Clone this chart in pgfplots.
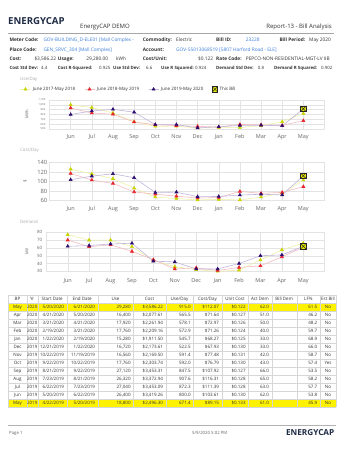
\documentclass[border=0pt]{standalone}
\usepackage{pgfplots}
\pgfplotsset{compat=1.18}
\usepackage{fontspec}
\setmainfont{Open Sans}
\newcommand\fs[1]{\fontsize{#1}{#1}\selectfont}
\definecolor{ylw}{HTML}{C8D400}
\definecolor{ylwl}{HTML}{EEF2A8}
\definecolor{rd}{HTML}{E8262C}
\definecolor{rdl}{HTML}{F5BCC0}
\definecolor{pur}{HTML}{2D0C6E}
\definecolor{purl}{HTML}{C2B6DC}
\definecolor{billy}{HTML}{E6E600}
\definecolor{gridc}{HTML}{E3E3E3}
\definecolor{tickc}{HTML}{666666}
\definecolor{txt}{HTML}{333333}
\definecolor{lbl}{HTML}{AAAAAA}
\definecolor{blu}{HTML}{3B7DD8}
\definecolor{logo}{HTML}{1E2B45}
\definecolor{tline}{HTML}{D6D6D6}
\pgfdeclareplotmark{thisbill}{%
  \pgfpathrectangle{\pgfpoint{-\pgfplotmarksize}{-\pgfplotmarksize}}{\pgfpoint{2\pgfplotmarksize}{2\pgfplotmarksize}}%
  \pgfusepathqfillstroke
  \pgfpathmoveto{\pgfpoint{-\pgfplotmarksize}{-\pgfplotmarksize}}\pgfpathlineto{\pgfpoint{\pgfplotmarksize}{\pgfplotmarksize}}%
  \pgfpathmoveto{\pgfpoint{-\pgfplotmarksize}{\pgfplotmarksize}}\pgfpathlineto{\pgfpoint{\pgfplotmarksize}{-\pgfplotmarksize}}%
  \pgfusepathqstroke}
\pgfplotsset{
  rep/.style={scale only axis, anchor=south west, clip=false,
    xmin=-1, xmax=12, xtick={0,...,11},
    xticklabels={Jun,Jul,Aug,Sep,Oct,Nov,Dec,Jan,Feb,Mar,Apr,May},
    grid=major, major grid style={draw=gridc, line width=0.4pt},
    axis line style={draw=gridc, line width=0.5pt}, tick style={draw=none},
    ticklabel style={text=tickc, inner sep=0pt},
    xticklabel style={font=\fs{5.5}, text height=4pt, text depth=1pt, anchor=north},
    /pgf/number format/assume math mode=true,
    ylabel style={text=tickc, anchor=center},
    legend image code/.code={\draw[mark repeat=2,mark phase=2,##1] plot coordinates {(0pt,0pt)(5pt,0pt)(10pt,0pt)};},
  },
  sy/.style={color=ylwl, line width=0.6pt, mark=triangle*, mark size=1.7pt, mark options={draw=ylw, fill=ylw, solid}},
  sr/.style={color=rdl, line width=0.6pt, mark=triangle*, mark size=1.7pt, mark options={draw=rd, fill=rd, solid}},
  sp/.style={color=purl, line width=0.6pt, mark=triangle*, mark size=1.7pt, mark options={draw=pur, fill=pur, solid}},
  sb/.style={only marks, mark=thisbill, mark size=2.6pt, mark options={draw=black!85, fill=billy, line width=0.5pt}},
}
\begin{document}
\begin{tikzpicture}[x=1pt,y=1pt,
  lab/.style={anchor=base west,inner sep=0pt,text=txt,font=\fs{4.8}\bfseries},
  val/.style={anchor=base west,inner sep=0pt,text=txt,font=\fs{4.8}},
  bval/.style={val,text=blu},
  lab4/.style={anchor=base west,inner sep=0pt,text=txt,font=\fs{4.4}\bfseries},
  val4/.style={anchor=base west,inner sep=0pt,text=txt,font=\fs{4.4}},
  tb/.style={inner sep=0pt,text=txt,font=\fs{4.5}},
  sec/.style={anchor=west,inner sep=0pt,text=lbl,font=\fs{4.4}}]
\fill[white] (0,0) rectangle (350,-453);
% ---------- header ----------
\node[anchor=base west,inner sep=0pt,text=logo,font=\fs{9.6}\bfseries] at (8,-24.5) {ENERGYCAP};
\node[anchor=base west,inner sep=0pt,text=txt,font=\fs{6}] at (80,-28.8) {EnergyCAP DEMO};
\node[anchor=base east,inner sep=0pt,text=txt,font=\fs{6}] at (332,-28.8) {Report-13 - Bill Analysis};
\draw[black!35,line width=0.6pt] (8,-33.3) -- (334,-33.3);
% row 1
\node[lab] at (9.3,-41.4) {Meter Code:};
\node[bval] at (43.3,-41.4) {GOV-BUILDING\_D-ELE01 [Mall Complex -};
\node[lab] at (142.7,-41.4) {Commodity:};
\node[val] at (176,-41.4) {Electric};
\node[lab] at (216,-41.4) {Bill ID:};
\node[bval] at (245.7,-41.4) {23228};
\node[lab] at (279.3,-41.4) {Bill Period:};
\node[val] at (309,-41.4) {May 2020};
% row 2
\node[lab] at (9.3,-51) {Place Code:};
\node[bval] at (43.3,-51) {GEN\_SRVC\_304 [Mall Complex]};
\node[lab] at (142.7,-51) {Account:};
\node[bval] at (176,-51) {GOV-55013068519 [5807 Harford Road - ELE]};
% row 3
\node[lab] at (9.3,-60.7) {Cost:};
\node[val] at (34.3,-60.7) {\$3,586.22};
\node[lab] at (57.7,-60.7) {Usage:};
\node[val,anchor=base east] at (108.3,-60.7) {29,280.00};
\node[val] at (116,-60.7) {kWh};
\node[lab] at (142.7,-60.7) {Cost/Unit:};
\node[val,anchor=base east] at (213.3,-60.7) {\$0.122};
\node[lab] at (216,-60.7) {Rate Code:};
\node[val] at (245.7,-60.7) {PEPCO-NON-RESIDENTIAL-MGT-LV IIB};
% row 4
\node[lab4] at (9.3,-69.8) {Cost Std Dev:};
\node[val4] at (41,-69.8) {4.4};
\node[lab4] at (57.7,-69.8) {Cost R-Squared:};
\node[val4] at (99,-69.8) {0.925};
\node[lab4] at (113,-69.8) {Use Std Dev:};
\node[val4] at (146,-69.8) {6.6};
\node[lab4] at (161,-69.8) {Use R Squared:};
\node[val4] at (195,-69.8) {0.924};
\node[lab4] at (216,-69.8) {Demand Std Dev:};
\node[val4] at (257.7,-69.8) {0.8};
\node[lab4] at (274,-69.8) {Demand R Squared:};
\node[val4] at (321,-69.8) {0.902};
% ---------- section labels ----------
\node[sec] at (20,-79.3) {Use/Day};
\node[sec] at (20,-150.7) {Cost/Day};
\node[sec] at (20,-221.7) {Demand};
% ---------- chart 1: Use/Day ----------
\begin{axis}[rep, at={(49.5pt,-129pt)}, width=275pt, height=29pt,
  ymin=500, ymax=1100, ytick={500,600,...,1100},
  yticklabel style={font=\fs{2.7}, xshift=-4pt},
  xticklabel style={yshift=-4.8pt},
  ylabel={kWh}, ylabel style={font=\fs{4.2}, at={(axis description cs:-0.083,0.5)}},
  legend columns=4, legend cell align=left,
  legend style={at={(axis description cs:-0.1073,1.369)}, anchor=west, draw=none, fill=none,
    font=\fs{4.5}, text=txt, inner sep=0pt,
    /tikz/every even column/.append style={column sep=7pt}}]
\addplot[sy] coordinates {(0,1000)(1,945)(2,830)(3,650)(4,555)(5,560)(6,520)(7,530)(8,530)(9,570)(10,650)(11,820)};
\addlegendentry{June 2017-May 2018}
\addplot[sr] coordinates {(0,935)(1,830)(2,805)(3,645)(4,590)(5,570)(6,555)(7,540)(8,595)(9,585)(10,575)(11,671.4)};
\addlegendentry{June 2018-May 2019}
\addplot[sp] coordinates {(0,800)(1,872.3)(2,907.6)(3,847.5)(4,592.0)(5,591.4)(6,522.5)(7,545.7)(8,572.9)(9,578.1)(10,565.5)(11,915.0)};
\addlegendentry{June 2019-May 2020}
\addplot[sb] coordinates {(11,915.0)};
\addlegendentry{This Bill}
\end{axis}
% ---------- chart 2: Cost/Day ----------
\begin{axis}[rep, at={(49.5pt,-200.4pt)}, width=275pt, height=37.8pt,
  ymin=60, ymax=140, ytick={60,80,...,140},
  yticklabel style={font=\fs{5.8}, xshift=-2pt},
  xticklabel style={yshift=-5.4pt},
  ylabel={\$}, ylabel style={font=\fs{4.4}, at={(axis description cs:-0.089,0.5)}}]
\addplot[sy] coordinates {(0,126)(1,116)(2,106)(3,86)(4,67)(5,64)(6,61)(7,62)(8,61)(9,67)(10,75)(11,103)};
\addplot[sr] coordinates {(0,117)(1,103)(2,96)(3,78)(4,73)(5,69)(6,65)(7,66)(8,79)(9,75)(10,77)(11,89.15)};
\addplot[sp] coordinates {(0,103.61)(1,111.39)(2,116.31)(3,107.92)(4,76.79)(5,77.48)(6,67.93)(7,68.27)(8,71.26)(9,72.97)(10,71.64)(11,112.07)};
\addplot[sb] coordinates {(11,112.07)};
\end{axis}
% ---------- chart 3: Demand ----------
\begin{axis}[rep, at={(46.3pt,-271.3pt)}, width=278.4pt, height=39pt,
  ymin=30, ymax=80, ytick={30,40,...,80},
  yticklabel style={font=\fs{4.4}, xshift=-4pt},
  xticklabel style={yshift=-6.5pt},
  ylabel={kW}, ylabel style={font=\fs{4.2}, at={(axis description cs:-0.070,0.5)}}]
\addplot[sy] coordinates {(0,77)(1,70)(2,70)(3,61.5)(4,44)(5,36)(6,32)(7,30)(8,31.5)(9,44.5)(10,57.5)(11,66)};
\addplot[sr] coordinates {(0,70)(1,61.5)(2,64)(3,55.5)(4,45)(5,33)(6,34.5)(7,31)(8,35)(9,37)(10,48.5)(11,61)};
\addplot[sp] coordinates {(0,62)(1,63)(2,65)(3,66)(4,43)(5,42)(6,33)(7,33)(8,40)(9,50)(10,51)(11,62)};
\addplot[sb] coordinates {(11,62)};
\end{axis}
% ---------- table ----------
\fill[yellow] (8.3,-303) rectangle (336,-311);
\fill[yellow] (8.3,-399) rectangle (336,-407);
\foreach \k in {0,...,14} {\draw[tline,line width=0.4pt] (8.3,{-(295+8*\k)}) -- (336,{-(295+8*\k)});}
\foreach \c in {8.3,26.7,37.7,66.7,97.7,133.3,165.7,193.3,221.7,248.3,271.7,296.7,320,336} {\draw[tline,line width=0.4pt] (\c,-295) -- (\c,-407);}
\foreach \x/\t in {17.5/BP,32.2/Yr,52.2/Start Date,82.2/End Date,115.5/Use,149.5/Cost,179.5/Use\slash Day,207.5/Cost\slash Day,235/Unit Cost,260/Act Dem,284.2/Bill Dem,308.35/LF\%,328/Est Bill}
  {\node[tb,anchor=base] at (\x,-300.6) {\t};}
\foreach \bp/\yr/\sd/\ed/\us/\co/\ud/\cd/\uc/\ad/\lf/\es [count=\i] in {
 May/2020/{5/20/2020}/{6/21/2020}/{29,280}/{\$3,586.22}/915.0/{\$112.07}/{\$0.122}/62.0/61.5/No,
 Apr/2020/{4/21/2020}/{5/20/2020}/{16,400}/{\$2,077.61}/565.5/{\$71.64}/{\$0.127}/51.0/46.2/No,
 Mar/2020/{3/21/2020}/{4/21/2020}/{17,920}/{\$2,261.94}/578.1/{\$72.97}/{\$0.126}/50.0/48.2/No,
 Feb/2020/{2/19/2020}/{3/21/2020}/{17,760}/{\$2,209.16}/572.9/{\$71.26}/{\$0.124}/40.0/59.7/No,
 Jan/2020/{1/22/2020}/{2/19/2020}/{15,280}/{\$1,911.50}/545.7/{\$68.27}/{\$0.125}/33.0/68.9/No,
 Dec/2019/{12/21/2019}/{1/22/2020}/{16,720}/{\$2,173.61}/522.5/{\$67.93}/{\$0.130}/33.0/66.0/No,
 Nov/2019/{10/22/2019}/{11/19/2019}/{16,560}/{\$2,169.50}/591.4/{\$77.48}/{\$0.131}/42.0/58.7/No,
 Oct/2019/{9/22/2019}/{10/22/2019}/{17,760}/{\$2,303.74}/592.0/{\$76.79}/{\$0.130}/43.0/57.4/Yes,
 Sep/2019/{8/21/2019}/{9/22/2019}/{27,120}/{\$3,453.31}/847.5/{\$107.92}/{\$0.127}/66.0/53.5/No,
 Aug/2019/{7/23/2019}/{8/21/2019}/{26,320}/{\$3,372.94}/907.6/{\$116.31}/{\$0.128}/65.0/58.2/No,
 Jul/2019/{6/22/2019}/{7/23/2019}/{27,040}/{\$3,453.09}/872.3/{\$111.39}/{\$0.128}/63.0/57.7/No,
 Jun/2019/{5/20/2019}/{6/22/2019}/{26,400}/{\$3,419.26}/800.0/{\$103.61}/{\$0.130}/62.0/53.8/No,
 May/2019/{4/22/2019}/{5/20/2019}/{18,800}/{\$2,496.30}/671.4/{\$89.15}/{\$0.133}/61.0/45.9/No}
{
 \pgfmathsetmacro\yb{-(300.6+8*\i)}
 \node[tb,anchor=base] at (17.5,\yb) {\bp};
 \node[tb,anchor=base] at (32.2,\yb) {\yr};
 \node[tb,anchor=base east] at (64.2,\yb) {\sd};
 \node[tb,anchor=base east] at (95.2,\yb) {\ed};
 \node[tb,anchor=base east] at (130.8,\yb) {\us};
 \node[tb,anchor=base east] at (163.2,\yb) {\co};
 \node[tb,anchor=base east] at (190.8,\yb) {\ud};
 \node[tb,anchor=base east] at (219.2,\yb) {\cd};
 \node[tb,anchor=base east] at (245.8,\yb) {\uc};
 \node[tb,anchor=base east] at (269.2,\yb) {\ad};
 \node[tb,anchor=base east] at (317.5,\yb) {\lf};
 \node[tb,anchor=base] at (328,\yb) {\es};
}
% ---------- footer ----------
\draw[black!30,line width=0.8pt] (8,-425) -- (336,-425);
\node[anchor=base west,inner sep=0pt,text=tickc,font=\fs{4.3}] at (9,-434.3) {Page 1};
\node[anchor=base west,inner sep=0pt,text=tickc,font=\fs{4.3}] at (192,-434.3) {5/9/2020 5:02 PM};
\node[anchor=base east,inner sep=0pt,text=logo,font=\fs{8.2}\bfseries] at (334.5,-435.6) {ENERGYCAP};
\end{tikzpicture}
\end{document}
